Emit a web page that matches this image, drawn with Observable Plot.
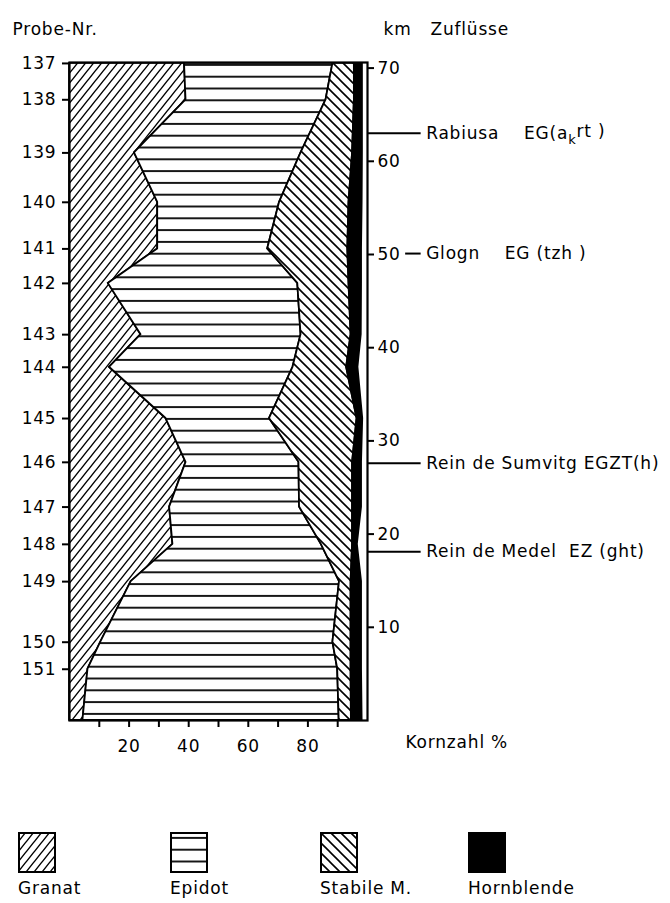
<!DOCTYPE html>
<html><head><meta charset="utf-8">
<script src="https://cdn.jsdelivr.net/npm/d3@7"></script>
<script src="https://cdn.jsdelivr.net/npm/@observablehq/plot@0.6"></script>
<style>
body{margin:0;background:#fff;font-family:"DejaVu Sans",sans-serif;}
#chart svg text{white-space:pre;letter-spacing:0.8px;}
#legend{position:relative;width:670px;height:133px;}
#legend .item{position:absolute;top:62px;}
#legend .lab{position:absolute;top:108px;font-size:17px;letter-spacing:0.8px;white-space:nowrap;}
</style></head><body>
<div id="chart"></div>
<div id="legend"></div>
<script>
// ---- data ----
const minerals = ["Granat", "Epidot", "Stabile M.", "Hornblende"];
const probeNr = [137, 138, 139, 140, 141, 142, 143, 144, 145, 146, 147, 148, 149, 150, 151];
// km of each sample along the river (last entry = lower end of profile, km 0)
const profileKm = [70.5, 66.6, 60.9, 55.6, 50.6, 46.9, 41.4, 37.9, 32.4, 27.7, 22.9, 18.9, 14.9, 8.4, 5.5, 0];
const granat     = [38.6, 39.1, 21.8, 29.6, 29.6, 13.0, 24.0, 13.4, 32.4, 39.1, 33.6, 34.7, 20.7, 10.5, 6.2, 4.5];
const epidot     = [49.8, 47.0, 55.9, 40.9, 36.9, 63.6, 53.7, 61.6, 34.7, 37.9, 43.6, 49.8, 69.9, 77.9, 83.8, 86.0];
const stabile    = [7.2, 9.5, 17.3, 23.3, 26.9, 17.2, 16.8, 18.0, 29.4, 18.0, 17.8, 10.5, 3.9, 6.1, 4.5, 4.1];
const hornblende = [2.7, 2.7, 3.3, 4.4, 4.6, 4.2, 3.4, 3.8, 1.9, 3.0, 3.0, 1.6, 3.5, 3.5, 3.5, 3.6];
const kmTicks = [10, 20, 30, 40, 50, 60, 70];
const pctTicks = [10, 20, 30, 40, 50, 60, 70, 80, 90];
const tribNames = ["Rabiusa", "Glogn", "Rein de Sumvitg", "Rein de Medel"];
const tribCodes = ["EG(a_krt )", "EG (tzh )", "EGZT(h)", "EZ (ght)"];
const tribKm = [63.0, 50.1, 27.6, 18.1];

// ---- tables ----
const series = [granat, epidot, stabile, hornblende];
const rows = [];
profileKm.forEach((k, i) => minerals.forEach((m, j) => rows.push({km: k, mineral: m, value: series[j][i]})));
const probeKm = profileKm.slice(0, probeNr.length);
const tribs = tribNames.map((n, i) => ({name: n, code: tribCodes[i], km: tribKm[i]}));
const gaps = {"Rabiusa": "    ", "Glogn": "    ", "Rein de Sumvitg": " ", "Rein de Medel": "  "};

const fills = ["url(#pG)", "url(#pE)", "url(#pS)", "black"];

function addPatterns(defs) {
  const g = defs.append("pattern").attr("id", "pG").attr("patternUnits", "userSpaceOnUse").attr("width", 8).attr("height", 10);
  g.append("rect").attr("width", 8).attr("height", 10).attr("fill", "white");
  g.append("path").attr("d", "M0,10L8,0M-2,2.5L2,-2.5M6,12.5L10,7.5").attr("stroke", "black").attr("stroke-width", 1.4);
  const e = defs.append("pattern").attr("id", "pE").attr("patternUnits", "userSpaceOnUse").attr("width", 10).attr("height", 11.8);
  e.append("rect").attr("width", 10).attr("height", 11.8).attr("fill", "white");
  e.append("path").attr("d", "M-1,5.9L11,5.9").attr("stroke", "black").attr("stroke-width", 1.8);
  const s = defs.append("pattern").attr("id", "pS").attr("patternUnits", "userSpaceOnUse").attr("width", 10).attr("height", 10);
  s.append("rect").attr("width", 10).attr("height", 10).attr("fill", "white");
  s.append("path").attr("d", "M0,0L10,10M-3,7L3,13M7,-3L13,3").attr("stroke", "black").attr("stroke-width", 1.6);
}

const defsMark = () => {
  const d = d3.create("svg:defs");
  addPatterns(d);
  return d.node();
};

const chart = Plot.plot({
  width: 670, height: 770,
  marginLeft: 69, marginRight: 303, marginTop: 62, marginBottom: 50,
  x: {domain: [0, 100]},
  y: {domain: [0, 70.6]},
  color: {domain: minerals, range: fills},
  style: {fontFamily: "DejaVu Sans", fontSize: "17px", color: "black", background: "white", overflow: "visible"},
  marks: [
    defsMark,
    Plot.areaX(rows, {y: "km", x: "value", z: "mineral", fill: "mineral", stroke: "black", strokeWidth: 1.8, strokeLinejoin: "round"}),
    Plot.frame({stroke: "black", strokeWidth: 2.2}),
    Plot.axisY({anchor: "left", ticks: probeKm, tickFormat: d => probeNr[probeKm.indexOf(d)], tickSize: 7, tickPadding: 6, strokeWidth: 2, label: null}),
    Plot.axisY({anchor: "right", ticks: kmTicks, tickSize: 6, tickPadding: 4, strokeWidth: 2, label: null}),
    Plot.axisX({anchor: "bottom", ticks: pctTicks, tickFormat: d => d % 20 === 0 ? d : "", tickSize: 7, tickPadding: 12, strokeWidth: 2, label: null}),
    Plot.ruleY(tribs, {y: "km", x1: d => d.name === "Glogn" ? 112.8 : 100, x2: 118, stroke: "black", strokeWidth: 2}),
    Plot.text(tribs, {y: "km", x: 118, dx: 5, text: d => d.name + gaps[d.name] + d.code, textAnchor: "start"}),
    Plot.text(["Probe-Nr."], {frameAnchor: "top-left", dx: -57, dy: -40, textAnchor: "start"}),
    Plot.text(["km"], {frameAnchor: "top-right", dx: 16, dy: -40, textAnchor: "start"}),
    Plot.text(["Zuflüsse"], {frameAnchor: "top-right", dx: 63, dy: -40, textAnchor: "start"}),
    Plot.text(["Kornzahl %"], {frameAnchor: "bottom-right", dx: 38, dy: 27, textAnchor: "start"})
  ]
});
document.getElementById("chart").append(chart);

// subscript k in "EG(a_krt )"
d3.select(chart).selectAll("text").each(function() {
  const t = this.textContent;
  if (t.includes("_k")) {
    const [a, b] = t.split("_k");
    const sel = d3.select(this);
    sel.text(null);
    sel.append("tspan").text(a);
    sel.append("tspan").attr("dy", "0.4em").attr("font-size", "13px").text("k");
    sel.append("tspan").attr("dy", "-0.4em").text(b);
  }
});

// legend
const lg = d3.select("#legend");
const lefts = [18, 170, 320, 468];
minerals.forEach((m, i) => {
  const s = lg.append("svg").attr("class", "item").style("left", lefts[i] + "px").attr("width", 38).attr("height", 41);
  s.append("rect").attr("x", 1).attr("y", 1).attr("width", 36).attr("height", 39).attr("fill", fills[i]).attr("stroke", "black").attr("stroke-width", 2);
  lg.append("div").attr("class", "lab").style("left", lefts[i] + "px").text(m);
});
</script>
</body></html>
